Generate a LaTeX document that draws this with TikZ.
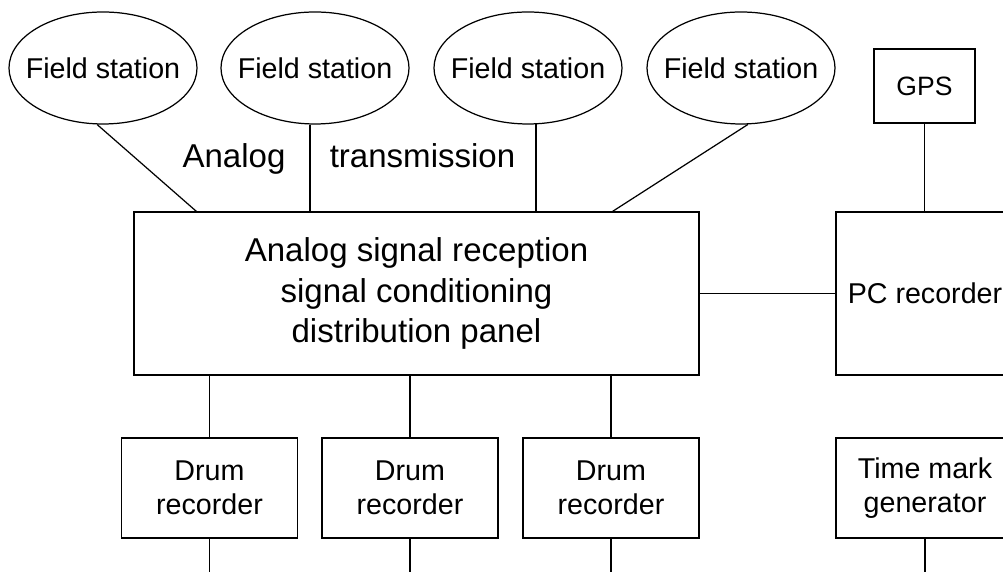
\documentclass[tikz,border=0pt]{standalone}
\usepackage{fontspec}
\setmainfont{Liberation Sans}
\usetikzlibrary{shapes.geometric,positioning}

\begin{document}
\begin{tikzpicture}[
  line width=0.7pt,
  txt/.style={font=\fontsize{16.3}{19.3}\selectfont},
  bigtxt/.style={font=\fontsize{18.8}{23}\selectfont},
  station/.style={draw, ellipse, inner sep=0pt, minimum width=3.76cm,
                  minimum height=2.24cm, txt},
  box/.style={draw, align=center, inner sep=0pt, txt},
  rec/.style={box, minimum width=3.52cm, minimum height=2cm}
]
\useasboundingbox (0,0) rectangle (20.06,11.44);
\coordinate (floor) at (0,0);

\foreach \x [count=\i] in {2.06,6.30,10.56,14.82}
  \node[station] (fs\i) at (\x,10.08) {\makebox[0pt]{Field station}};

\node[box, bigtxt, minimum width=11.3cm, minimum height=3.26cm] (panel)
  at (8.33,5.57)
  {Analog signal reception\\signal conditioning\\distribution panel};

\node[bigtxt, anchor=base] (lbla) at (4.68,8.08) {Analog};
\node[bigtxt, anchor=base] (lblt) at (8.45,8.08) {transmission};

\draw (fs1.-96) -- ([xshift=1.26cm]panel.north west);
\draw (fs2.-95) -- (fs2.-95 |- panel.north);
\draw (fs3.-82) -- (fs3.-82 |- panel.north);
\draw (fs4.-83) -- ([xshift=-1.74cm]panel.north east);

\node[box, font=\fontsize{15.1}{18}\selectfont, minimum width=2.02cm,
      minimum height=1.48cm] (gps) at (18.49,9.72) {GPS};
\node[box, minimum width=3.56cm, minimum height=3.26cm] (pc)
  at (18.50,5.57) {PC recorder};

\draw (gps.south) -- (gps.south |- pc.north);
\draw (panel.east) -- (pc.west);

\foreach \x [count=\i] in {4.19,8.20,12.22} {
  \node[rec] (drum\i) at (\x,1.68) {Drum\\recorder};
  \draw (drum\i.north) -- (drum\i.north |- panel.south);
  \draw (drum\i.south) -- (drum\i.south |- floor);
}

\node[rec, minimum width=3.56cm] (tmg) at (18.50,1.68) {Time mark\\generator};
\draw (tmg.south) -- (tmg.south |- floor);

\end{tikzpicture}
\end{document}
